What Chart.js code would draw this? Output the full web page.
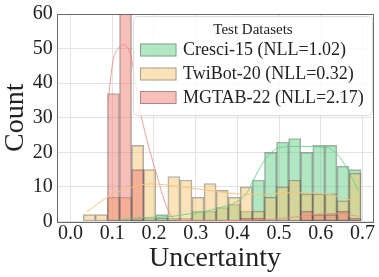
<!DOCTYPE html>
<html><head><meta charset="utf-8">
<script src="https://cdn.jsdelivr.net/npm/chart.js@4.4.1/dist/chart.umd.min.js"></script>
<style>html,body{margin:0;padding:0;background:#fff;}#wrap{width:379px;height:277px;position:relative;}canvas{display:block;}</style>
</head><body><div id="wrap"><canvas id="c" width="379" height="277" style="width:379px;height:277px"></canvas></div>
<script>
// ---- data ----
const binCenters = [0.0449,0.0739,0.1028,0.1318,0.1608,0.1898,0.2187,0.2477,0.2767,0.3056,0.3346,0.3636,0.3925,0.4215,0.4505,0.4795,0.5084,0.5374,0.5664,0.5953,0.6243,0.6533,0.6822];
const cresciCounts = [0,0,0,0,1,1,2,1,1,3,3,4,5,3,12,20,23,24,20,22,22,16,15];
const twibotCounts = [2,2,7,7,22,15,1,13,12,7,11,9,7,10,3,7,10,12,8,8,8,6,14];
const mgtabCounts  = [0,0,37,72,15,0,0,0,0,0,0,0,0,1,1,0,0,0,3,2,2,3,1];

const cresciKdeX = [0.123,0.170,0.238,0.278,0.318,0.358,0.398,0.422,0.438,0.470,0.502,0.550,0.614,0.646,0.670,0.690];
const cresciKdeY = [0.6,1.1,1.4,2.1,2.8,4.0,5.7,8.1,11.9,18.5,21.4,21.7,21.4,18.5,13.8,9.0];
const twibotKdeX = [0.039,0.090,0.146,0.194,0.226,0.260,0.318,0.398,0.446,0.470,0.510,0.550,0.610,0.650,0.690];
const twibotKdeY = [2.8,7.1,9.9,10.9,10.6,10.1,9.2,8.0,7.8,7.8,8.3,8.3,8.0,7.0,5.5];
const mgtabKdeX = [0.090,0.102,0.114,0.127,0.142,0.152,0.162,0.178,0.190,0.206,0.222,0.238,0.250,0.300,0.400,0.500,0.550,0.600,0.650,0.690];
const mgtabKdeY = [35,46.6,50,51.1,49,43,35,26,20.4,13.8,7.1,2.3,0.6,0.2,0.3,0.8,1.5,2.2,2.3,1.5];

const seriesLabels = ['Cresci-15 (NLL=1.02)','TwiBot-20 (NLL=0.32)','MGTAB-22 (NLL=2.17)'];
const legendTitle = 'Test Datasets';
const xTicks = [0.0,0.1,0.2,0.3,0.4,0.5,0.6,0.7];
const yTicks = [0,10,20,30,40,50,60];

// ---- styles ----
const FONT = "'Liberation Serif', 'Times New Roman', serif";
const fills = ['rgba(100,210,135,0.5)','rgba(245,197,115,0.5)','rgba(241,125,115,0.5)'];
const edge = 'rgba(70,70,70,0.45)';
const lineCols = ['rgba(95,208,135,0.85)','rgba(247,195,120,0.95)','rgba(240,135,125,0.8)'];

const pts = (xs, ys) => xs.map((x, i) => ({x: x, y: ys[i]}));

function barDs(label, counts, i, order) {
  return {type:'bar', label, data: pts(binCenters, counts), backgroundColor: fills[i],
    borderColor: edge, borderWidth: 1, borderSkipped: false, order,
    barPercentage: 1, categoryPercentage: 1, grouped: false};
}
function lineDs(xs, ys, i) {
  return {type:'line', label: '_kde' + i, data: pts(xs, ys), borderColor: lineCols[i], borderWidth: 1,
    pointRadius: 0, fill: false, cubicInterpolationMode: 'monotone', order: 0};
}

const framePlugin = {
  id: 'frame',
  afterDatasetsDraw(chart) {
    const {ctx, chartArea: a} = chart;
    ctx.save();
    ctx.strokeStyle = '#6a6a6a'; ctx.lineWidth = 1;
    ctx.strokeRect(Math.round(a.left) + 0.5, Math.round(a.top) + 0.5, Math.round(a.right - a.left) - 1, Math.round(a.bottom - a.top));
    ctx.restore();
  }
};

const legendPlugin = {
  id: 'boxLegend',
  afterDraw(chart) {
    const ctx = chart.ctx;
    const x0 = 133.5, y0 = 16.5, w = 239, h = 99, r = 4;
    ctx.save();
    ctx.beginPath();
    ctx.moveTo(x0 + r, y0); ctx.lineTo(x0 + w - r, y0); ctx.quadraticCurveTo(x0 + w, y0, x0 + w, y0 + r);
    ctx.lineTo(x0 + w, y0 + h - r); ctx.quadraticCurveTo(x0 + w, y0 + h, x0 + w - r, y0 + h);
    ctx.lineTo(x0 + r, y0 + h); ctx.quadraticCurveTo(x0, y0 + h, x0, y0 + h - r);
    ctx.lineTo(x0, y0 + r); ctx.quadraticCurveTo(x0, y0, x0 + r, y0); ctx.closePath();
    ctx.fillStyle = 'rgba(255,255,255,0.8)'; ctx.fill();
    ctx.strokeStyle = '#dcdcdc'; ctx.lineWidth = 1; ctx.stroke();
    ctx.fillStyle = '#222';
    ctx.textBaseline = 'middle';
    ctx.textAlign = 'center';
    ctx.font = '15px ' + FONT;
    ctx.fillText(legendTitle, 253, 30);
    ctx.textAlign = 'left';
    ctx.font = '18px ' + FONT;
    const rows = [50, 74, 97.5];
    const bars = chart.data.datasets.filter(d => d.type === 'bar');
    bars.forEach((d, i) => {
      const yc = rows[i];
      ctx.fillStyle = d.backgroundColor;
      ctx.fillRect(140, yc - 6.5, 36.5, 13);
      ctx.strokeStyle = d.borderColor;
      ctx.strokeRect(140.5, yc - 6, 35.5, 12);
      ctx.fillStyle = '#222';
      ctx.fillText(d.label, 183, yc + 0.5);
    });
    ctx.restore();
  }
};

new Chart(document.getElementById('c'), {
  type: 'bar',
  data: {
    datasets: [
      barDs(seriesLabels[0], cresciCounts, 0, 3),
      barDs(seriesLabels[1], twibotCounts, 1, 2),
      barDs(seriesLabels[2], mgtabCounts, 2, 1),
      lineDs(cresciKdeX, cresciKdeY, 0),
      lineDs(twibotKdeX, twibotKdeY, 1),
      lineDs(mgtabKdeX, mgtabKdeY, 2)
    ]
  },
  options: {
    responsive: false, maintainAspectRatio: false, animation: false, devicePixelRatio: 1,
    layout: {padding: {top: 11.5, right: 5.7, left: 0, bottom: 0}},
    plugins: {legend: {display: false}, tooltip: {enabled: false}},
    scales: {
      x: {
        type: 'linear', min: -0.0333, max: 0.726, offset: false,
        grid: {color: '#e3e3e3', offset: false, drawTicks: false},
        border: {display: false},
        afterBuildTicks: s => { s.ticks = xTicks.map(v => ({value: v})); },
        afterFit: s => { s.height = 55.5; },
        ticks: {color: '#222', font: {family: FONT, size: 20, lineHeight: 1}, padding: 2, maxRotation: 0, autoSkip: false,
          callback: v => Number(v).toFixed(1)},
        title: {display: true, text: 'Uncertainty', color: '#222', font: {family: FONT, size: 28, lineHeight: 1}, padding: {top: 0, bottom: 4}}
      },
      y: {
        type: 'linear', min: 0, max: 60,
        grid: {color: '#e3e3e3', drawTicks: false},
        border: {display: false},
        afterBuildTicks: s => { s.ticks = yTicks.map(v => ({value: v})); },
        afterFit: s => { s.width = 56.7; },
        ticks: {color: '#222', font: {family: FONT, size: 20, lineHeight: 1}, padding: 4},
        title: {display: true, text: 'Count', color: '#222', font: {family: FONT, size: 28, lineHeight: 1}, padding: {top: 1.5, bottom: 0}}
      }
    }
  },
  plugins: [framePlugin, legendPlugin]
});
</script></body></html>
